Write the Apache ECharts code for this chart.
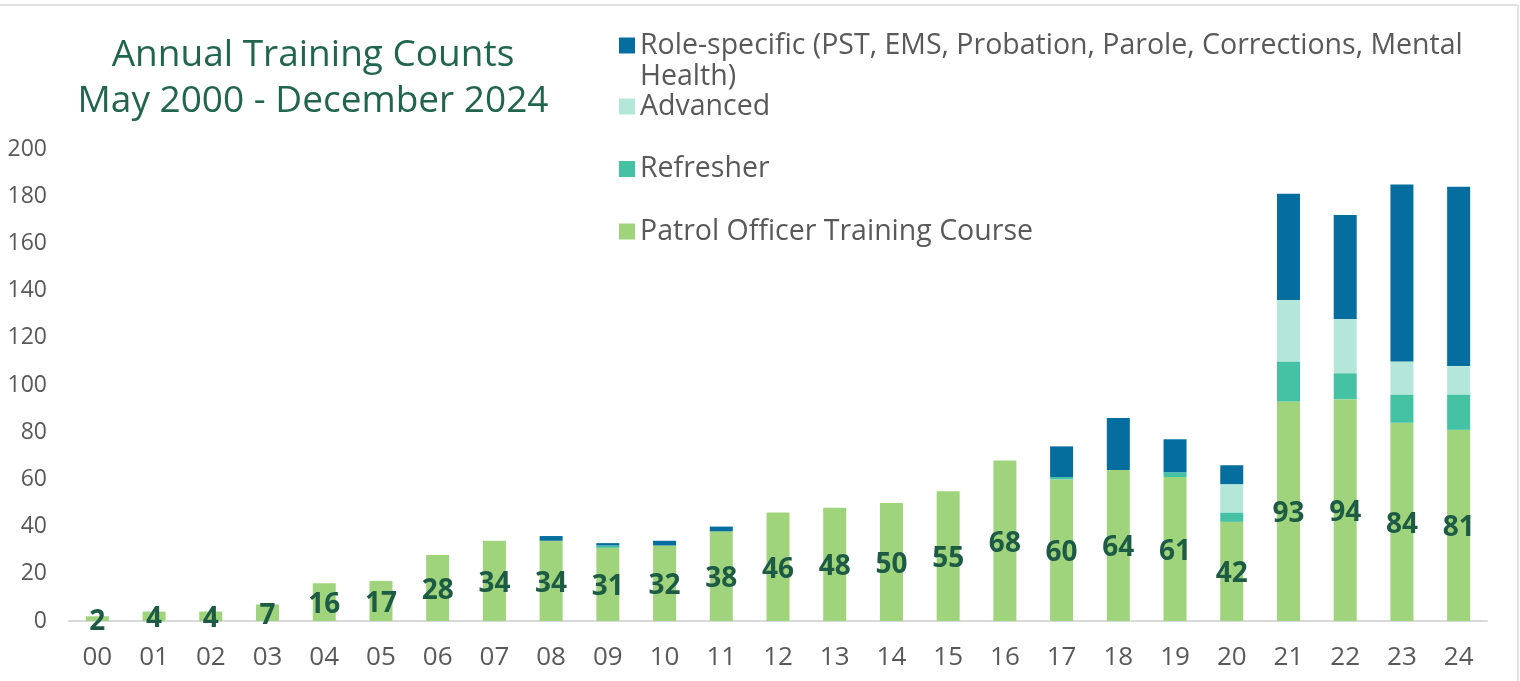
<!DOCTYPE html>
<html>
<head>
<meta charset="utf-8">
<script src="https://cdn.jsdelivr.net/npm/echarts@6/dist/echarts.min.js"></script>
<style>
  html, body { margin: 0; padding: 0; background: #fff; }
  #chart { width: 1520px; height: 681px; }
</style>
</head>
<body>
<div id="chart"></div>
<script>
// year labels 2000 - 2024
const years = ['00','01','02','03','04','05','06','07','08','09','10','11','12',
  '13','14','15','16','17','18','19','20','21','22','23','24'];
const patrol = [2,4,4,7,16,17,28,34,34,31,32,38,46,48,50,55,68,60,64,61,42,93,94,84,81];
const refresher = [null,null,null,null,null,null,null,null,null,1,null,null,null,
  null,null,null,null,1,null,2,4,17,11,12,15];
const advanced = [null,null,null,null,null,null,null,null,null,null,null,null,null,
  null,null,null,null,null,null,null,12,26,23,14,12];
const roleSpecific = [null,null,null,null,null,null,null,null,2,1,2,2,null,
  null,null,null,null,13,22,14,8,45,44,75,76];
const yTicks = [0, 200, 20];

const ROLE = 'Role-specific (PST, EMS, Probation, Parole, Corrections, Mental Health)';
const font = 'Open Sans';
const gray = '#595959';

const chart = echarts.init(document.getElementById('chart'));

function legendAt(name, top, extra) {
  return Object.assign({
    data: [name],
    orient: 'vertical',
    left: 619,
    top: top,
    padding: 0,
    itemWidth: 16,
    itemHeight: 16,
    icon: 'rect',
    selectedMode: false,
    textStyle: { fontFamily: font, fontSize: 28.5, color: gray, lineHeight: 31 }
  }, extra || {});
}

chart.setOption({
  animation: false,
  title: {
    text: 'Annual Training Counts\nMay 2000 - December 2024',
    left: 313,
    top: 32,
    padding: 0,
    textAlign: 'center',
    textStyle: { fontFamily: font, fontSize: 37, fontWeight: 'normal', color: '#22654f', lineHeight: 46 }
  },
  legend: [
    // empty first line keeps the icon level with the first text line
    legendAt(ROLE, -1, {
      formatter: function (n) { return '\n' + n.replace(' Health', '\nHealth'); }
    }),
    legendAt('Advanced', 91),
    legendAt('Refresher', 153.5),
    legendAt('Patrol Officer Training Course', 216)
  ],
  grid: { left: 69, right: 33, top: 149, bottom: 60 },
  xAxis: {
    type: 'category',
    data: years,
    axisTick: { show: false },
    axisLine: { lineStyle: { color: '#d9d9d9', width: 2 } },
    axisLabel: { fontFamily: font, fontSize: 26, color: gray, margin: 24 }
  },
  yAxis: {
    type: 'value',
    min: yTicks[0],
    max: yTicks[1],
    interval: yTicks[2],
    splitLine: { show: false },
    axisLine: { show: false },
    axisTick: { show: false },
    axisLabel: { fontFamily: font, fontSize: 23, color: gray, margin: 22 }
  },
  series: [
    {
      name: 'Patrol Officer Training Course',
      type: 'bar',
      stack: 'total',
      barWidth: 23,
      data: patrol,
      itemStyle: { color: '#a0d47c' },
      label: {
        show: true,
        position: 'inside',
        offset: [0, 3],
        fontFamily: font,
        fontWeight: 'bold',
        fontSize: 28,
        color: '#1d5b45'
      }
    },
    {
      name: 'Refresher',
      type: 'bar',
      stack: 'total',
      barWidth: 23,
      data: refresher,
      itemStyle: { color: '#44c2a3' }
    },
    {
      name: 'Advanced',
      type: 'bar',
      stack: 'total',
      barWidth: 23,
      data: advanced,
      itemStyle: { color: '#b4e6da' }
    },
    {
      name: ROLE,
      type: 'bar',
      stack: 'total',
      barWidth: 23,
      data: roleSpecific,
      itemStyle: { color: '#066e9e' }
    }
  ],
  graphic: [
    { type: 'line', shape: { x1: 0, y1: 5, x2: 1518, y2: 5 }, style: { stroke: '#d9d9d9', lineWidth: 1.5 } },
    { type: 'line', shape: { x1: 1518, y1: 5, x2: 1518, y2: 681 }, style: { stroke: '#d9d9d9', lineWidth: 1.5 } }
  ]
});
</script>
</body>
</html>
